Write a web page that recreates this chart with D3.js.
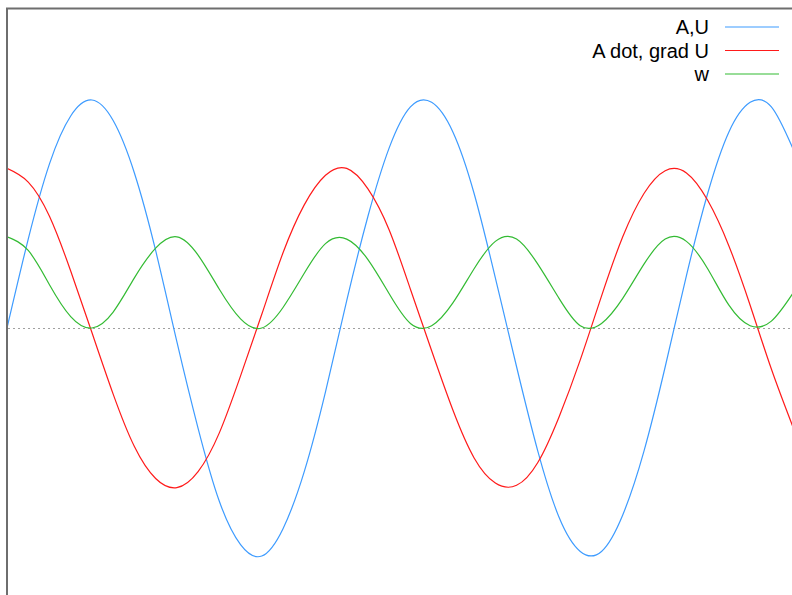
<!DOCTYPE html>
<html>
<head>
<meta charset="utf-8">
<script src="https://d3js.org/d3.v7.min.js"></script>
<style>
  body { margin: 0; background: #fff; }
  svg { display: block; }
</style>
</head>
<body>
<script>
// sample points (x in radians)
var xs = [0, 0.4, 0.8, 1.2, 1.6, 2.0, 2.4, 2.8, 3.2, 3.6, 4.0, 4.4, 4.8, 5.2, 5.6, 6.0, 6.4, 6.8, 7.2, 7.6,
          8.0, 8.4, 8.8, 9.2, 9.6, 10.0, 10.4, 10.8, 11.2, 11.6, 12.0, 12.4, 12.8, 13.2, 13.6, 14.0, 14.4, 14.8];

var au = [0, 0.39, 0.72, 0.93, 1.00, 0.91, 0.68, 0.34, -0.06, -0.44, -0.76, -0.95, -1.00, -0.88, -0.63, -0.28, 0.12, 0.49, 0.79, 0.97,
          0.99, 0.86, 0.59, 0.22, -0.17, -0.54, -0.83, -0.98, -0.98, -0.82, -0.54, -0.17, 0.23, 0.59, 0.86, 0.99, 0.97, 0.79];

var adot = [0.70, 0.64, 0.49, 0.25, -0.02, -0.29, -0.52, -0.66, -0.70, -0.63, -0.46, -0.21, 0.06, 0.33, 0.54, 0.67, 0.70, 0.61, 0.43, 0.17,
            -0.10, -0.36, -0.57, -0.68, -0.69, -0.59, -0.39, -0.14, 0.14, 0.40, 0.59, 0.69, 0.68, 0.56, 0.36, 0.10, -0.18, -0.43];

var w = [0.40, 0.34, 0.19, 0.05, 0.00, 0.07, 0.22, 0.35, 0.40, 0.32, 0.17, 0.04, 0.00, 0.09, 0.24, 0.37, 0.39, 0.30, 0.15, 0.02,
         0.01, 0.11, 0.26, 0.38, 0.39, 0.28, 0.13, 0.01, 0.02, 0.13, 0.28, 0.39, 0.38, 0.26, 0.10, 0.01, 0.03, 0.15];

var labels = ["A,U", "A dot, grad U", "w"];
var colors = ["#3d9bff", "#ff1a1a", "#33bb33"];

var main = function() {
  var width = 792, height = 595;

  var svg = d3.select("body")
    .append("svg")
    .attr("width", width)
    .attr("height", height);

  var x = d3.scaleLinear().domain([0, 14.8]).range([7, 792.6]);
  var y = d3.scaleLinear().domain([-1, 1]).range([556, 100]);

  svg.append("clipPath").attr("id", "clip")
    .append("rect")
    .attr("x", 7).attr("y", 9)
    .attr("width", width - 7).attr("height", height - 9);

  // zero line
  svg.append("line")
    .attr("x1", 8).attr("x2", width)
    .attr("y1", y(0) + 0.5).attr("y2", y(0) + 0.5)
    .attr("stroke", "#a0a0a0")
    .attr("stroke-width", 1)
    .attr("stroke-dasharray", "2,3");

  var line = d3.line()
    .x(function(d) { return x(d[0]); })
    .y(function(d) { return y(d[1]); })
    .curve(d3.curveNatural);

  var series = [au, adot, w];
  var plot = svg.append("g").attr("clip-path", "url(#clip)");
  series.forEach(function(s, i) {
    plot.append("path")
      .datum(xs.map(function(v, j) { return [v, s[j]]; }))
      .attr("fill", "none")
      .attr("stroke", colors[i])
      .attr("stroke-width", 1.2)
      .attr("d", line);
  });

  // frame (top and left visible)
  svg.append("path")
    .attr("d", "M7," + height + "V8.5H" + width)
    .attr("fill", "none")
    .attr("stroke", "#6e6e6e")
    .attr("stroke-width", 2);

  // legend
  var legend = svg.append("g");
  labels.forEach(function(t, i) {
    var ly = 27 + i * 23.5;
    legend.append("text")
      .attr("x", 709)
      .attr("y", ly + 7)
      .attr("text-anchor", "end")
      .style("font-family", "'Liberation Sans', Arial, sans-serif")
      .style("font-size", "20px")
      .attr("fill", "#000")
      .text(t);
    legend.append("line")
      .attr("x1", 725).attr("x2", 779)
      .attr("y1", ly).attr("y2", ly)
      .attr("stroke", colors[i])
      .attr("stroke-width", 1.2);
  });
}

main();
</script>
</body>
</html>
